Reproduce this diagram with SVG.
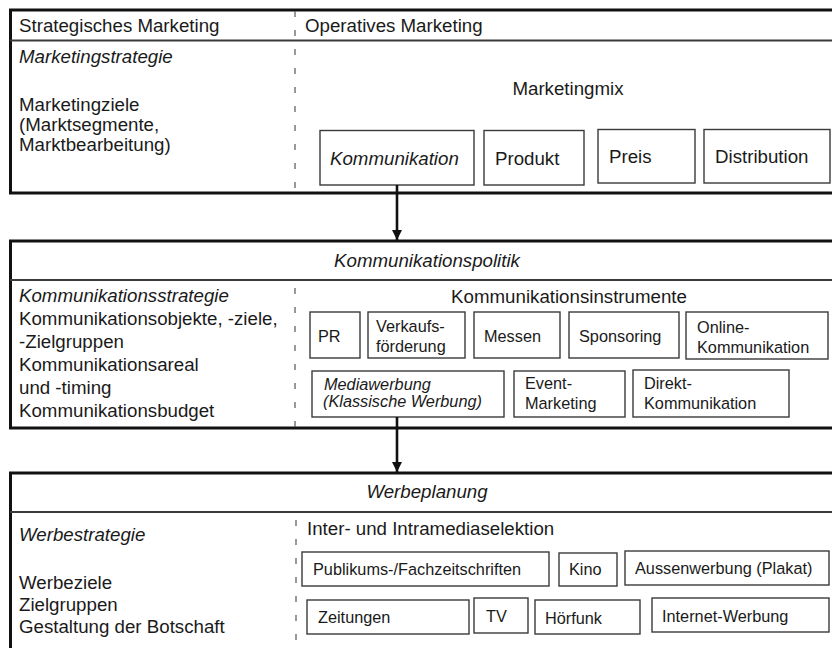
<svg xmlns="http://www.w3.org/2000/svg" width="832" height="648" viewBox="0 0 832 648">
  <defs>
    <style>
      text { font-family: "Liberation Sans", Arial, sans-serif; fill: #1a1a1a; }
      .l { font-size: 18.7px; }
      .s { font-size: 16.3px; }
      .i { font-style: italic; }
      .m { text-anchor: middle; }
      .frame { fill: none; stroke: #111; stroke-width: 3; }
      .sep { fill: none; stroke: #3a3a3a; stroke-width: 1.8; }
      .dash { fill: none; stroke: #555; stroke-width: 1.2; stroke-dasharray: 6 13; }
      .box { fill: #fff; stroke: #3a3a3a; stroke-width: 1.4; }
      .flow { fill: none; stroke: #111; stroke-width: 2.6; }
    </style>
    <marker id="head" viewBox="0 0 10 10" refX="10" refY="5" markerWidth="10" markerHeight="10" markerUnits="userSpaceOnUse" orient="auto">
      <path d="M0,0 L10,5 L0,10 Z" fill="#111"/>
    </marker>
  </defs>

  <rect width="832" height="648" fill="#fff"/>

  <!-- Panel 1: strategic / operative marketing -->
  <g id="panel-marketing">
    <rect class="frame" x="10.5" y="10" width="835" height="183"/>
    <line class="sep" x1="10" y1="40.5" x2="832" y2="40.5"/>
    <line class="dash" x1="295" y1="11" x2="295" y2="192"/>
    <text class="l" x="19" y="32">Strategisches Marketing</text>
    <text class="l" x="305" y="32">Operatives Marketing</text>
    <text class="l i" x="19" y="63">Marketingstrategie</text>
    <text class="l" x="19" y="111">Marketingziele</text>
    <text class="l" x="19" y="131">(Marktsegmente,</text>
    <text class="l" x="19" y="151">Marktbearbeitung)</text>
    <text class="l m" x="568" y="95">Marketingmix</text>
  </g>
  <g id="mix-kommunikation">
    <rect class="box" x="320" y="130.5" width="154" height="54.5"/>
    <text class="l i" x="330" y="165">Kommunikation</text>
  </g>
  <g id="mix-produkt">
    <rect class="box" x="484" y="130.5" width="100" height="54.5"/>
    <text class="l" x="495" y="165">Produkt</text>
  </g>
  <g id="mix-preis">
    <rect class="box" x="598" y="129.5" width="97" height="53.5"/>
    <text class="l" x="609" y="163">Preis</text>
  </g>
  <g id="mix-distribution">
    <rect class="box" x="704" y="129.5" width="126" height="53.5"/>
    <text class="l" x="715" y="163">Distribution</text>
  </g>

  <!-- Panel 2: communication policy -->
  <g id="panel-kommunikation">
    <rect class="frame" x="10.5" y="241" width="835" height="187"/>
    <line class="sep" x1="10" y1="280" x2="832" y2="280"/>
    <line class="dash" x1="295" y1="288" x2="295" y2="427"/>
    <text class="l i m" x="427" y="267">Kommunikationspolitik</text>
    <text class="l i" x="19" y="302">Kommunikationsstrategie</text>
    <text class="l" x="19" y="325">Kommunikationsobjekte, -ziele,</text>
    <text class="l" x="19" y="348">-Zielgruppen</text>
    <text class="l" x="19" y="371">Kommunikationsareal</text>
    <text class="l" x="19" y="394">und -timing</text>
    <text class="l" x="19" y="417">Kommunikationsbudget</text>
    <text class="l m" x="569" y="303">Kommunikationsinstrumente</text>
  </g>
  <g id="inst-pr">
    <rect class="box" x="310" y="312" width="50" height="46"/>
    <text class="s" x="318" y="342">PR</text>
  </g>
  <g id="inst-verkaufsfoerderung">
    <rect class="box" x="368" y="312" width="97" height="46"/>
    <text class="s" x="376" y="332">Verkaufs-</text>
    <text class="s" x="376" y="352">förderung</text>
  </g>
  <g id="inst-messen">
    <rect class="box" x="474" y="312" width="86" height="46"/>
    <text class="s" x="484" y="342">Messen</text>
  </g>
  <g id="inst-sponsoring">
    <rect class="box" x="569" y="312" width="110" height="46"/>
    <text class="s" x="579" y="342">Sponsoring</text>
  </g>
  <g id="inst-online">
    <rect class="box" x="686" y="312" width="142" height="47"/>
    <text class="s" x="697" y="333">Online-</text>
    <text class="s" x="697" y="353">Kommunikation</text>
  </g>
  <g id="inst-mediawerbung">
    <rect class="box" x="312" y="371" width="192" height="46"/>
    <text class="s i" x="324" y="390">Mediawerbung</text>
    <text class="s i" x="323" y="407">(Klassische Werbung)</text>
  </g>
  <g id="inst-event">
    <rect class="box" x="514" y="371" width="111" height="46"/>
    <text class="s" x="525" y="389">Event-</text>
    <text class="s" x="525" y="409">Marketing</text>
  </g>
  <g id="inst-direkt">
    <rect class="box" x="633" y="370" width="156" height="47"/>
    <text class="s" x="644" y="389">Direkt-</text>
    <text class="s" x="644" y="409">Kommunikation</text>
  </g>

  <!-- Panel 3: advertising planning -->
  <g id="panel-werbeplanung">
    <rect class="frame" x="10.5" y="473" width="835" height="190"/>
    <line class="sep" x1="10" y1="512" x2="832" y2="512"/>
    <line class="dash" x1="296" y1="520" x2="296" y2="648"/>
    <text class="l i m" x="427" y="498">Werbeplanung</text>
    <text class="l i" x="19" y="541">Werbestrategie</text>
    <text class="l" x="19" y="589">Werbeziele</text>
    <text class="l" x="19" y="611">Zielgruppen</text>
    <text class="l" x="19" y="633">Gestaltung der Botschaft</text>
    <text class="l" x="307" y="535">Inter- und Intramediaselektion</text>
  </g>
  <g id="media-zeitschriften">
    <rect class="box" x="302" y="552" width="247" height="34"/>
    <text class="s" x="313" y="575">Publikums-/Fachzeitschriften</text>
  </g>
  <g id="media-kino">
    <rect class="box" x="559" y="553" width="58" height="33"/>
    <text class="s" x="569" y="575">Kino</text>
  </g>
  <g id="media-aussenwerbung">
    <rect class="box" x="625" y="551" width="204" height="34"/>
    <text class="s" x="635" y="574">Aussenwerbung (Plakat)</text>
  </g>
  <g id="media-zeitungen">
    <rect class="box" x="307" y="600" width="162" height="34"/>
    <text class="s" x="318" y="623">Zeitungen</text>
  </g>
  <g id="media-tv">
    <rect class="box" x="474" y="598" width="54" height="35"/>
    <text class="s" x="486" y="622">TV</text>
  </g>
  <g id="media-hoerfunk">
    <rect class="box" x="535" y="600" width="105" height="34"/>
    <text class="s" x="545" y="624">Hörfunk</text>
  </g>
  <g id="media-internet">
    <rect class="box" x="652" y="598" width="177" height="34"/>
    <text class="s" x="662" y="622">Internet-Werbung</text>
  </g>

  <!-- Connectors -->
  <g id="connectors">
    <line class="flow" x1="397" y1="185" x2="397" y2="240" marker-end="url(#head)"/>
    <line class="flow" x1="397" y1="417" x2="397" y2="472" marker-end="url(#head)"/>
  </g>
</svg>
